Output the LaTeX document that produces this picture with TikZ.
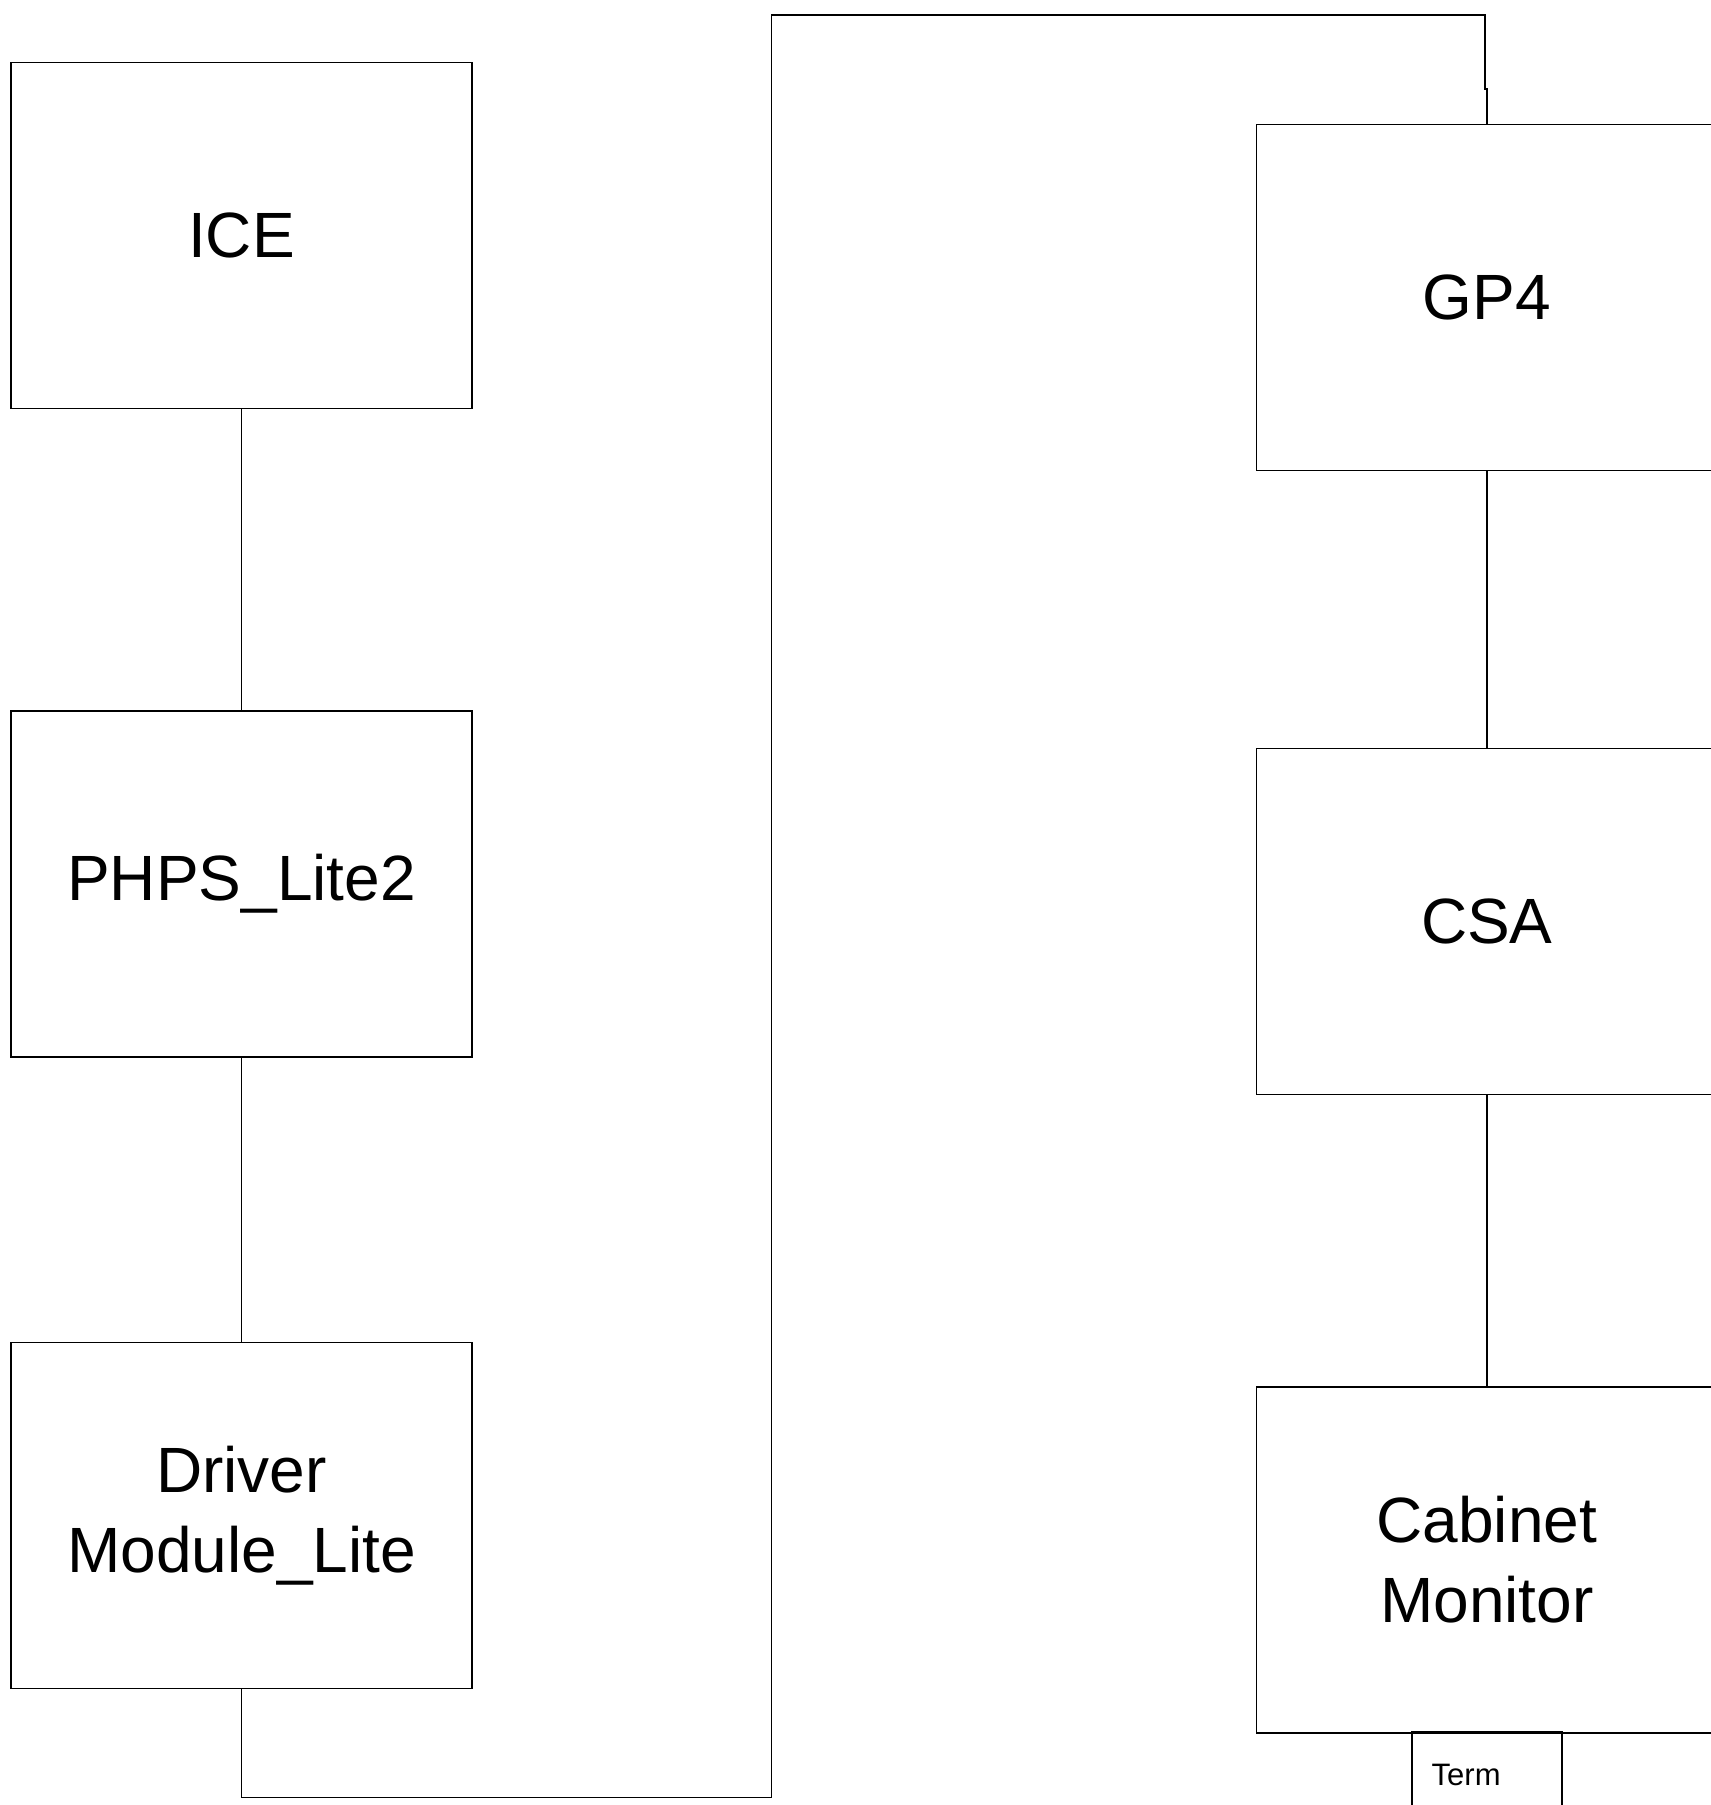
\documentclass[tikz,border=0pt]{standalone}
\usepackage{fontspec}
\setmainfont{Liberation Sans}
\tikzset{
    unit/.style={draw, line width=0.8pt, minimum width=230.5pt, minimum height=173pt,
        align=center, font=\fontsize{32}{40}\selectfont},
    termbox/.style={draw, line width=0.8pt, text width=55pt, inner xsep=10pt,
        minimum height=43pt, align=left, font=\fontsize{15.5}{18}\selectfont},
    wire/.style={line width=0.8pt}
}
\begin{document}
\begin{tikzpicture}[x=0.5pt, y=-0.5pt]
            \useasboundingbox (0,0) rectangle (1710,1805);
            % left column
            \node[unit] (ICE) at (241.5,235.5) {ICE};
            \node[unit] (PHPS) at (241.5,884) {PHPS\_Lite2};
            \node[unit] (Driver) at (241.5,1515.5) {Driver\\Module\_Lite};
            % right column
            \node[unit] (GP4) at (1486.8,297.4) {GP4};
            \node[unit] (CSA) at (1486.8,921.3) {CSA};
            \node[unit] (Cabinet) at (1486.8,1560) {Cabinet\\Monitor};
            \node[termbox] (Term) at (1486.7,1775) {Term};
            \draw[wire] (ICE.south) -- (PHPS.north);
            \draw[wire] (PHPS.south) -- (Driver.north);
            \draw[wire] (GP4.south) -- (CSA.north);
            \draw[wire] (CSA.south) -- (Cabinet.north);
            % long link round the top
            \coordinate (turnA) at (771.5,1797.5);
            \coordinate (turnB) at (771.5,15);
            \coordinate (turnC) at (1484.7,15);
            \coordinate (jog) at (1484.7,89);
            \draw[wire] (Driver.south) |- (turnA) -- (turnB) -- (turnC) -- (jog) -| (GP4.north);
        \end{tikzpicture}
\end{document}
